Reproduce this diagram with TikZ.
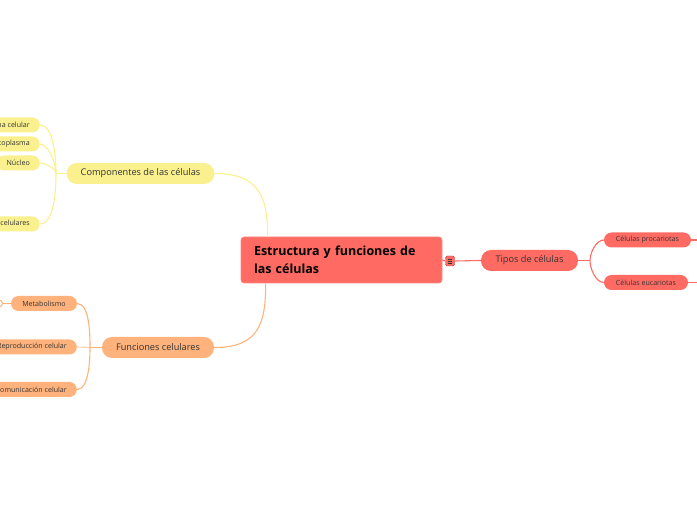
\documentclass[tikz,border=0pt]{standalone}
\usepackage{fontspec}
\setmainfont{Open Sans}
\usetikzlibrary{calc}
\definecolor{cred}{HTML}{FF6B63}
\definecolor{cyel}{HTML}{FAF18E}
\definecolor{cora}{HTML}{FFB27B}
\definecolor{ctxt}{HTML}{333333}
\tikzset{
  small/.style={rounded corners=7.5pt, minimum height=15pt, inner xsep=10pt, inner ysep=0pt,
    font=\fontsize{7.1}{8}\selectfont, text=ctxt},
  mid/.style={rounded corners=10pt, minimum height=21pt, inner xsep=14pt, inner ysep=0pt,
    font=\fontsize{9.2}{11}\selectfont, text=ctxt},
  yel/.style={fill=cyel},
  ora/.style={fill=cora},
  rd/.style={fill=cred},
  ylink/.style={draw=cyel, line width=1.1pt},
  olink/.style={draw=cora, line width=1.1pt},
  rlink/.style={draw=cred, line width=1.1pt},
}
\begin{document}
\begin{tikzpicture}[x=1pt,y=1pt]
\useasboundingbox (0,0) rectangle (697,520);
\clip (0,0) rectangle (697,520);
% central
\node[rd, rounded corners=3pt, draw=cred!80!white, line width=0.6pt, text width=175pt, align=left, inner xsep=13pt, inner ysep=0pt,
  minimum height=46pt, font=\fontsize{12.5}{18}\selectfont\bfseries, text=black] (root) at (341.5,260)
  {Estructura y funciones de\\las células};
\node[rd, draw=cred!70!black, rounded corners=1.5pt, minimum width=9pt, minimum height=10pt, inner sep=0pt,
  path picture={\draw[black!80, line width=0.8pt]
     ([xshift=2.5pt,yshift=-3pt]path picture bounding box.north west) -- ++(4pt,0)
     ([xshift=2.5pt,yshift=-5pt]path picture bounding box.north west) -- ++(4pt,0)
     ([xshift=2.5pt,yshift=-7pt]path picture bounding box.north west) -- ++(4pt,0);}] (icon) at (450,259) {};
% red branch
\node[mid, rd, minimum width=97pt] (tipos) at (529.5,259.5) {Tipos de células};
\node[small, rd, minimum width=87pt] (proc) at (647.5,280) {Células procariotas};
\node[small, rd, minimum width=84pt] (euc) at (646,237.5) {Células eucariotas};
\coordinate (rhub) at (590,259.5);
\coordinate (pend) at (697,280);
\coordinate (eend) at (697,237.5);
% yellow branch
\node[mid, yel, minimum width=147pt] (comp) at (140.5,346.5) {Componentes de las células};
\node[small, yel, anchor=east] (memb) at (40,395) {Membrana celular};
\node[small, yel, anchor=east] (cito) at (40,376) {Citoplasma};
\node[small, yel, anchor=east] (nucl) at (40,357) {Núcleo};
\node[small, yel, anchor=east] (orga) at (40,296) {Organelos celulares};
\coordinate (yhub) at (56,346.5);
% orange branch
\node[mid, ora, minimum width=112pt] (func) at (158,172.5) {Funciones celulares};
\node[small, ora, minimum width=66pt] (meta) at (44,216.5) {Metabolismo};
\node[small, ora, anchor=east] (repr) at (77,173) {Reproducción celular};
\node[small, ora, anchor=east] (comu) at (77,130.5) {Comunicación celular};
\coordinate (ohub) at (90,172.5);
\node[circle, draw=cora, fill=white, line width=1pt, minimum size=7pt, inner sep=0pt] (metac) at (-1,216.5) {};
\coordinate (rtop) at ($(root.north west)+(27,0)$);
\coordinate (rbot) at ($(root.south west)+(25,0)$);
% connectors
\draw[ylink] (comp.east) .. controls +(45,0) and +(0,40) .. (rtop);
\draw[olink] (func.east) .. controls +(45,0) and +(0,-40) .. (rbot);
\draw[rlink] (root.east) -- (icon.west);
\draw[rlink] (icon.east) -- (tipos.west);
\draw[rlink] (tipos.east) -- (rhub);
\draw[rlink] (rhub) to[out=90,in=180,looseness=0.8] (proc.west);
\draw[rlink] (rhub) to[out=-90,in=180,looseness=0.8] (euc.west);
\draw[rlink] (proc.east) -- (pend);
\draw[rlink] (euc.east) -- (eend);
\draw[ylink] (comp.west) -- (yhub);
\draw[ylink] (yhub) to[out=90,in=0,looseness=0.7] (memb.east);
\draw[ylink] (yhub) to[out=90,in=0,looseness=0.7] (cito.east);
\draw[ylink] (yhub) to[out=90,in=0,looseness=0.7] (nucl.east);
\draw[ylink] (yhub) to[out=-90,in=0,looseness=0.7] (orga.east);
\draw[olink] (func.west) -- (ohub);
\draw[olink] (ohub) to[out=90,in=0,looseness=0.7] (meta.east);
\draw[olink, draw=cora!60!white] (ohub) -- (repr.east);
\draw[olink] (ohub) to[out=-90,in=0,looseness=0.7] (comu.east);
\draw[olink] (meta.west) -- (metac.east);
\end{tikzpicture}
\end{document}
